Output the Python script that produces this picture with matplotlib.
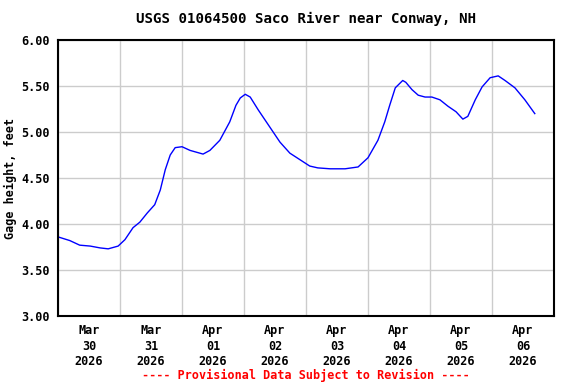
import matplotlib.pyplot as plt

# days since 2026-03-30 00:00, gage height in feet
days = [0.0, 0.19, 0.35, 0.52, 0.68, 0.81, 0.97, 1.08, 1.21, 1.32, 1.44, 1.56,
        1.65, 1.73, 1.81, 1.89, 2.0, 2.13, 2.34, 2.45, 2.61, 2.77, 2.87, 2.94,
        3.02, 3.10, 3.23, 3.39, 3.58, 3.74, 3.90, 4.06, 4.19, 4.39, 4.63, 4.84,
        5.0, 5.16, 5.27, 5.35, 5.44, 5.56, 5.61, 5.71, 5.81, 5.92, 6.03, 6.16,
        6.29, 6.42, 6.53, 6.61, 6.73, 6.84, 6.97, 7.10, 7.21, 7.37, 7.53, 7.69]
height = [3.86, 3.82, 3.77, 3.76, 3.74, 3.73, 3.76, 3.83, 3.96, 4.02, 4.12, 4.21,
          4.37, 4.59, 4.75, 4.83, 4.84, 4.80, 4.76, 4.80, 4.91, 5.11, 5.29, 5.37,
          5.41, 5.38, 5.24, 5.08, 4.89, 4.77, 4.70, 4.63, 4.61, 4.60, 4.60, 4.62,
          4.72, 4.91, 5.11, 5.29, 5.48, 5.56, 5.54, 5.46, 5.40, 5.38, 5.38, 5.35,
          5.28, 5.22, 5.14, 5.17, 5.35, 5.49, 5.59, 5.61, 5.56, 5.48, 5.35, 5.20]

day_labels = ["Mar\n30\n2026", "Mar\n31\n2026", "Apr\n01\n2026", "Apr\n02\n2026",
              "Apr\n03\n2026", "Apr\n04\n2026", "Apr\n05\n2026", "Apr\n06\n2026"]
y_ticks = [3.0, 3.5, 4.0, 4.5, 5.0, 5.5, 6.0]

plt.rcParams['font.family'] = 'DejaVu Sans Mono'
plt.rcParams['font.weight'] = 'bold'
plt.rcParams['axes.titleweight'] = 'bold'
plt.rcParams['axes.labelweight'] = 'bold'
plt.rcParams['font.size'] = 8.5

fig = plt.figure(figsize=(5.76, 3.84), dpi=100)
ax = fig.add_axes([58 / 576, 68 / 384, 496 / 576, 276 / 384])

ax.plot(days, height, color='blue', linewidth=1)

ax.set_xlim(0, 8)
ax.set_ylim(3, 6)
ax.set_xticks(range(9))
ax.set_xticklabels([])
ax.set_xticks([i + 0.5 for i in range(8)], minor=True)
ax.set_xticklabels(day_labels, minor=True, linespacing=1.25)
ax.set_yticks(y_ticks)
ax.set_yticklabels(["%.2f" % v for v in y_ticks])
ax.tick_params(axis='both', which='both', length=0, pad=6)
ax.grid(True, which='major', color='#cccccc', linewidth=1)

for s in ax.spines.values():
    s.set_linewidth(1.5)

ax.set_title("USGS 01064500 Saco River near Conway, NH", pad=12)
ax.set_ylabel("Gage height, feet", labelpad=3)
fig.text(306 / 576, 1 - 375 / 384, "---- Provisional Data Subject to Revision ----",
         color='red', ha='center', va='center', fontweight='bold')

plt.savefig('out.png', dpi=100)
